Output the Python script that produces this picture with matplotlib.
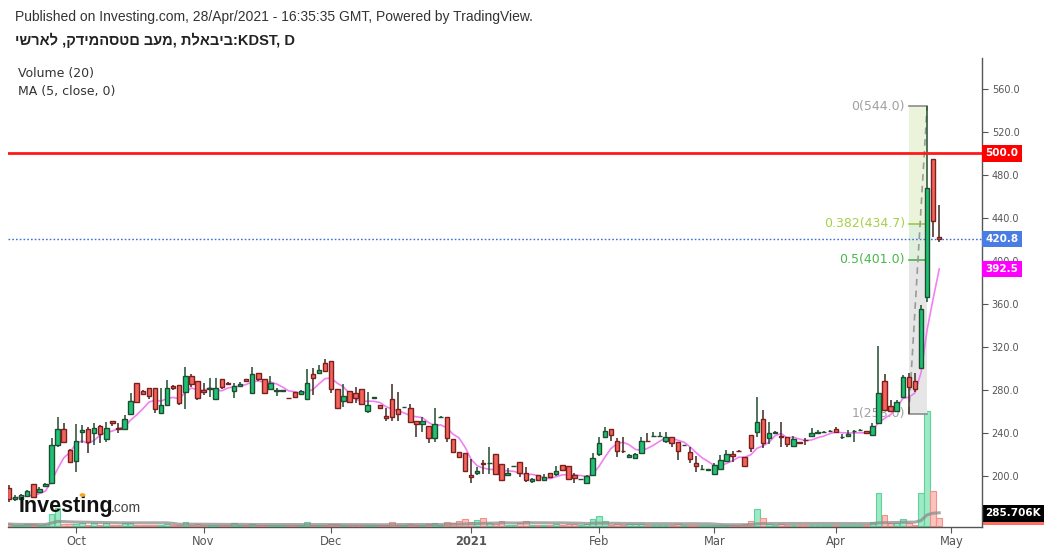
import numpy as np
import pandas as pd
import matplotlib
matplotlib.use("Agg")
import matplotlib.pyplot as plt
import matplotlib.transforms as mtransforms
from matplotlib.patches import Circle

# ---------------- data ----------------
opens = [188.5, 178.3, 178.3, 181.4, 192.3, 185.4, 191.0, 193.2, 228.8, 243.4,
         224.2, 214.0, 240.6, 243.4, 239.7, 246.8, 234.1, 251.2, 244.4, 243.4,
         257.4, 286.2, 279.4, 281.6, 281.6, 258.3, 265.7, 283.7, 284.6, 278.4,
         293.0, 288.7, 280.0, 280.6, 271.3, 290.2, 286.2, 279.1, 284.0, 289.9,
         276.9, 295.5, 289.9, 280.6, 279.1, 279.5, 272.5, 277.8, 276.0, 271.3,
         294.6, 296.1, 304.8, 306.7, 280.6, 270.1, 278.8, 276.9, 280.6, 260.8,
         273.0, 266.1, 255.8, 271.3, 262.0, 263.8, 263.6, 251.2, 248.1, 246.5,
         235.0, 255.0, 255.2, 234.1, 222.0, 221.1, 200.6, 203.1, 212.4, 211.8,
         220.2, 210.9, 200.6, 209.2, 213.3, 203.1, 195.4, 201.3, 196.3, 203.1,
         201.6, 210.6, 209.6, 200.9, 197.1, 193.2, 200.6, 220.5, 236.0, 244.0,
         232.9, 223.3, 217.4, 216.4, 221.1, 233.0, 237.3, 237.3, 232.6, 236.0,
         231.3, 228.7, 222.6, 211.8, 206.6, 206.0, 201.6, 206.2, 214.3, 220.5,
         223.6, 218.0, 238.1, 240.6, 252.7, 235.1, 240.4, 236.8, 236.0, 227.9,
         231.2, 233.5, 237.2, 240.2, 241.1, 242.0, 244.0, 236.4, 237.2, 241.7,
         242.5, 241.6, 238.1, 249.1, 288.8, 265.2, 260.9, 273.9, 291.8, 288.8,
         300.2, 366.3, 494.6, 422.0]
highs = [191.6, 182.0, 183.0, 187.0, 192.6, 190.1, 193.5, 235.0, 254.6, 249.6,
         224.8, 248.4, 247.5, 245.9, 249.6, 247.5, 250.5, 251.2, 249.0, 256.7,
         276.9, 286.2, 279.8, 281.6, 281.6, 281.6, 289.3, 284.6, 284.6, 301.1,
         294.9, 288.7, 286.2, 290.8, 290.8, 290.2, 287.0, 286.2, 287.8, 289.9,
         301.1, 295.5, 289.9, 293.0, 281.6, 280.0, 272.5, 277.8, 280.0, 299.5,
         300.1, 303.3, 308.8, 306.7, 280.6, 285.3, 279.0, 283.1, 281.0, 277.8,
         273.4, 266.1, 263.0, 285.6, 277.8, 264.0, 266.7, 251.2, 255.2, 246.5,
         263.0, 255.4, 255.2, 234.1, 222.0, 221.1, 215.5, 208.7, 214.9, 226.7,
         220.2, 211.0, 207.2, 209.5, 213.3, 208.1, 198.5, 201.3, 201.6, 203.1,
         209.3, 210.6, 209.6, 202.5, 197.4, 201.0, 221.7, 236.0, 245.3, 244.0,
         235.0, 236.0, 220.5, 221.0, 236.0, 239.7, 240.6, 241.2, 241.2, 236.0,
         231.3, 229.0, 227.3, 218.6, 210.2, 206.5, 211.8, 219.6, 224.2, 223.6,
         223.8, 218.0, 238.1, 273.8, 261.4, 249.9, 241.9, 249.9, 236.0, 237.5,
         231.3, 235.1, 244.4, 242.8, 242.0, 243.0, 245.3, 239.1, 242.8, 242.8,
         243.5, 241.6, 249.0, 321.0, 295.0, 270.8, 270.8, 294.0, 295.6, 295.6,
         359.1, 544.0, 494.6, 452.1]
lows = [176.1, 177.0, 177.5, 180.5, 180.2, 185.0, 190.5, 192.6, 226.7, 231.0,
        212.4, 203.4, 230.4, 221.7, 228.8, 231.0, 231.9, 246.5, 239.7, 242.8,
        256.7, 268.8, 276.0, 271.3, 258.3, 258.3, 265.7, 280.0, 266.0, 262.0,
        283.1, 270.7, 275.3, 273.8, 270.7, 280.6, 284.6, 272.3, 283.1, 287.8,
        276.9, 288.7, 276.9, 280.6, 274.4, 279.3, 272.2, 273.2, 275.5, 271.3,
        275.3, 295.5, 298.0, 277.5, 262.0, 264.5, 268.0, 267.6, 266.0, 258.3,
        272.8, 262.0, 251.5, 251.5, 251.5, 263.6, 250.6, 236.6, 241.3, 231.0,
        232.0, 254.8, 232.0, 222.0, 217.0, 204.0, 193.8, 201.0, 201.9, 201.9,
        201.0, 196.0, 200.0, 209.0, 199.4, 194.8, 193.8, 195.4, 195.4, 197.9,
        200.0, 205.0, 196.5, 193.8, 197.0, 193.0, 200.0, 218.6, 235.1, 232.9,
        218.0, 221.1, 216.5, 216.0, 220.5, 232.0, 236.6, 236.6, 230.4, 226.7,
        214.9, 228.6, 211.8, 204.0, 205.6, 205.8, 201.0, 205.6, 213.3, 213.3,
        223.2, 208.7, 222.6, 236.6, 226.4, 229.8, 239.7, 226.7, 226.7, 227.3,
        231.0, 228.8, 237.2, 239.7, 240.8, 241.7, 239.7, 234.1, 236.6, 232.0,
        242.0, 239.5, 237.5, 249.1, 261.5, 260.9, 260.9, 273.9, 258.0, 278.5,
        300.2, 362.2, 422.7, 418.0]
closes = [178.3, 180.8, 182.3, 186.4, 180.8, 188.2, 192.6, 228.8, 243.4, 231.3,
          213.3, 232.9, 242.8, 231.3, 245.0, 238.8, 245.0, 249.0, 243.4, 252.7,
          270.1, 269.2, 276.6, 274.7, 262.0, 265.7, 281.6, 281.6, 268.2, 293.0,
          285.3, 272.3, 278.4, 281.6, 281.6, 282.5, 285.3, 283.7, 285.6, 288.4,
          294.6, 289.9, 277.5, 286.8, 279.7, 279.7, 272.2, 273.8, 279.1, 286.2,
          291.5, 298.6, 298.0, 280.6, 262.9, 274.4, 268.5, 272.9, 266.7, 266.1,
          273.3, 263.0, 253.7, 255.2, 257.4, 264.0, 250.6, 248.4, 251.2, 235.0,
          248.1, 255.2, 235.0, 222.0, 217.4, 205.0, 198.8, 204.4, 211.5, 211.9,
          201.9, 196.3, 202.5, 209.4, 203.1, 196.0, 196.9, 196.3, 199.4, 199.4,
          205.0, 205.3, 196.9, 197.9, 197.3, 200.3, 216.4, 231.0, 242.2, 237.8,
          223.3, 223.0, 219.2, 220.8, 232.9, 232.6, 237.6, 237.6, 236.6, 231.0,
          223.6, 228.9, 215.8, 209.6, 206.9, 206.3, 210.0, 214.9, 220.5, 218.9,
          223.3, 209.6, 226.4, 250.5, 230.4, 239.7, 240.7, 236.5, 229.8, 234.1,
          231.0, 233.2, 239.7, 240.4, 241.4, 242.3, 240.6, 236.7, 239.1, 242.0,
          242.8, 239.7, 246.8, 277.0, 261.5, 260.9, 269.2, 291.8, 283.2, 281.0,
          355.1, 468.0, 437.6, 420.8]
volumes_k = [60, 40, 35, 50, 45, 40, 50, 445, 657, 74,
             50, 60, 95, 40, 90, 30, 80, 30, 25, 90,
             110, 40, 20, 30, 35, 40, 60, 25, 30, 137,
             40, 60, 30, 25, 40, 30, 20, 80, 25, 20,
             70, 30, 40, 35, 20, 15, 15, 25, 30, 122,
             40, 30, 35, 50, 60, 30, 25, 20, 30, 40,
             15, 20, 30, 137, 40, 15, 74, 40, 30, 45,
             100, 15, 137, 100, 160, 237, 122, 197, 272, 80,
             60, 174, 40, 20, 100, 174, 40, 30, 25, 30,
             50, 30, 45, 50, 15, 60, 249, 371, 160, 40,
             60, 30, 50, 45, 70, 40, 25, 20, 40, 30,
             45, 15, 40, 35, 20, 15, 40, 35, 30, 25,
             15, 60, 160, 620, 272, 60, 20, 50, 30, 35,
             15, 40, 30, 20, 15, 15, 25, 20, 30, 40,
             15, 25, 122, 1213, 397, 100, 100, 249, 100, 37,
             1213, 4240, 1273, 285.706]

month_labels = ["Oct", "Nov", "Dec", "2021", "Feb", "Mar", "Apr", "May"]
month_bar_index = [11, 32, 53, 76, 97, 116, 136, 155]
price_ticks = [200, 240, 280, 320, 360, 400, 440, 480, 520, 560]
alert_level = 500.0
fib_ratios = [0.0, 0.382, 0.5, 1.0]
fib_low_bar = 148
fib_high_bar = 151

header = "Published on Investing.com, 28/Apr/2021 - 16:35:35 GMT, Powered by TradingView."
title = "ישראל ,קדימהסטם בעמ, תלאביב:KDST, D"
legend_lines = ["Volume (20)", "MA (5, close, 0)"]

# ---------------- figure ----------------
W, H = 1048, 551
fig = plt.figure(figsize=(W / 100, H / 100), dpi=100)
fig.patch.set_facecolor("white")

BAR_PX = 6.08
left_px, right_px, top_px, bot_px = 8, 982, 58, 527
rect = [left_px / W, (H - bot_px) / H, (right_px - left_px) / W, (bot_px - top_px) / H]
xlim = ((left_px - 9) / BAR_PX, (right_px - 9) / BAR_PX)

axv = fig.add_axes(rect)
ax = fig.add_axes(rect)
ax.patch.set_alpha(0)

o = np.array(opens); h = np.array(highs); l = np.array(lows); c = np.array(closes)
v = np.array(volumes_k, dtype=float)
idx = np.arange(len(o))
up = c >= o

# ---- volume pane (overlay) ----
axv.set_xlim(*xlim)
axv.set_ylim(-50, 17350)
vol_fill = np.where(up, "#9fe9c6", "#fbc3bd")
vol_edge = np.where(up, "#5dd49c", "#f39189")
axv.bar(idx, v, width=0.92, color=vol_fill, edgecolor=vol_edge, linewidth=0.8, zorder=2)
vol_ma = pd.Series(v).rolling(20, min_periods=1).mean()
axv.plot(idx, vol_ma, color="#8c8c8c", lw=2.2, alpha=0.75, zorder=3)
axv.axis("off")

# ---- price pane ----
ax.set_xlim(*xlim)
ax.set_ylim(152.6, 588.8)

# Fibonacci retracement
fib_lo = lows[fib_low_bar]
fib_hi = highs[fib_high_bar]
levels = [fib_hi - r * (fib_hi - fib_lo) for r in fib_ratios]
x0, x1 = fib_low_bar, fib_high_bar
zone_cols = ["#ebf4da", "#dff1dc", "#e6e6e6"]
for k in range(3):
    ax.fill_between([x0, x1], levels[k + 1], levels[k], color=zone_cols[k], lw=0, zorder=0.5)
lvl_cols = ["#8c8c8c", "#9ccc3c", "#4cb050", "#8c8c8c"]
txt_cols = ["#a0a0a0", "#a6d04a", "#47b84b", "#a0a0a0"]
lab_off = mtransforms.offset_copy(ax.transData, fig=fig, x=-4, y=0, units="dots")
for r, lv, lc, tc in zip(fib_ratios, levels, lvl_cols, txt_cols):
    ax.plot([x0, x1], [lv, lv], color=lc, lw=1.2, zorder=1)
    ax.text(x0, lv, f"{r:g}({lv:.1f})", transform=lab_off, ha="right", va="center",
            fontsize=9, color=tc, family="DejaVu Sans", zorder=1)
ax.plot([x0, x1], [fib_lo, fib_hi], color="#9a9a9a", lw=1.2, ls=(0, (4, 3)), zorder=1)

# reference lines
ax.axhline(closes[-1], color="#3f6fd8", lw=1, ls=(0, (1.2, 1.5)), zorder=2)
ax.axhline(alert_level, color="#ff1a1a", lw=2, zorder=6)

# MA(5)
ma5 = pd.Series(c).rolling(5, min_periods=1).mean()
ax.plot(idx, ma5, color="#f47ef4", lw=1.2, zorder=3)

# candles
wick_col = np.where(up, "#1f4d2f", "#3d2a22")
ax.vlines(idx, l, h, colors=wick_col, lw=1.1, zorder=4)
body_bot = np.minimum(o, c)
body_h = np.maximum(np.abs(c - o), 0.3)
fill = np.where(up, "#1dc276", "#f4645a")
edge = np.where(up, "#1f4d2f", "#7a1f1f")
ax.bar(idx, body_h, bottom=body_bot, width=0.74, color=fill, edgecolor=edge,
       linewidth=1.0, zorder=5)

# axes styling
for s in ["top", "left"]:
    ax.spines[s].set_visible(False)
for s in ["right", "bottom"]:
    ax.spines[s].set_color("#555555")
    ax.spines[s].set_linewidth(1)
ax.yaxis.tick_right()
ax.set_yticks(price_ticks)
ax.set_yticklabels([f"{t:.1f}" for t in price_ticks])
ax.tick_params(axis="y", length=4, color="#555555", labelsize=7, labelcolor="#555555", pad=3)
ax.set_xticks(month_bar_index)
ax.set_xticklabels(month_labels)
ax.tick_params(axis="x", length=4, color="#555555", labelsize=8.3, labelcolor="#555555", pad=2)
for t in ax.get_xticklabels():
    if t.get_text().isdigit():
        t.set_fontweight("bold")

# right-axis value boxes
blend = mtransforms.blended_transform_factory(ax.transAxes, ax.transData)
box_tr = mtransforms.offset_copy(blend, fig=fig, x=3.5, y=0, units="dots")
ma_last = ma5.iloc[-1]
for val, col in [(alert_level, "#ff0000"), (closes[-1], "#4a7de3"), (ma_last, "#ff00ff")]:
    ax.text(1.0, val, f"{val:.1f}", transform=box_tr, ha="left", va="center", fontsize=7.5,
            fontweight="bold", color="white", clip_on=False, zorder=10,
            bbox=dict(boxstyle="square,pad=0.3", fc=col, ec="none"))
vblend = mtransforms.blended_transform_factory(axv.transAxes, axv.transData)
vt1 = mtransforms.offset_copy(vblend, fig=fig, x=3.5, y=1, units="dots")
vt2 = mtransforms.offset_copy(vblend, fig=fig, x=3.5, y=4.5, units="dots")
vlab = f"{volumes_k[-1]:.3f}K"
axv.text(1.0, v[-1], vlab, transform=vt1, ha="left", va="center", fontsize=7.5, fontweight="bold",
         color="#ff6f61", clip_on=False, zorder=10,
         bbox=dict(boxstyle="square,pad=0.3", fc="#ff6f61", ec="none"))
axv.text(1.0, v[-1], vlab, transform=vt2, ha="left", va="center", fontsize=7.5, fontweight="bold",
         color="white", clip_on=False, zorder=11,
         bbox=dict(boxstyle="square,pad=0.3", fc="black", ec="none"))

# header texts
def fx(px):
    return px / W

def fy(py):
    return 1 - py / H

fig.text(fx(15), fy(17), header, fontsize=10, family=["Liberation Sans", "DejaVu Sans"],
         color="#333333", va="center", ha="left")
fig.text(fx(15), fy(40), title, fontsize=10.5, fontweight="bold",
         family=["Liberation Sans", "DejaVu Sans"], color="#222222", va="center", ha="left")
for i, line in enumerate(legend_lines):
    fig.text(fx(18), fy(73 + 19 * i), line, fontsize=9, family="DejaVu Sans",
             color="#333333", va="center", ha="left")

# Investing.com logo
fig.text(fx(19), fy(512), "Investing", fontsize=15.5, fontweight="bold",
         family=["Liberation Sans", "DejaVu Sans"], color="#111111", va="baseline", ha="left", zorder=12)
fig.text(fx(111), fy(512), ".com", fontsize=10, family=["Liberation Sans", "DejaVu Sans"],
         color="#444444", va="baseline", ha="left", zorder=12)
fig.patches.append(Circle((82.5 / W, fy(495)), 2.2 / W, transform=fig.transFigure,
                          color="#f5a623", zorder=13))

fig.savefig("out.png", dpi=100)
